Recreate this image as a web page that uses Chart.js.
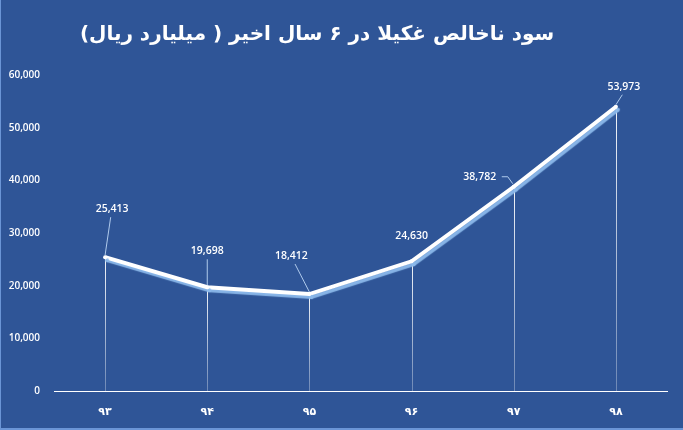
<!DOCTYPE html>
<html>
<head>
<meta charset="utf-8">
<script src="https://cdn.jsdelivr.net/npm/chart.js@4.4.0/dist/chart.umd.min.js"></script>
<style>
    html, body { margin: 0; padding: 0; background: #2f5597; overflow: hidden; }
    #wrap { width: 683px; height: 430px; position: relative; }
    #edge { position: absolute; left: 0; top: 0; width: 683px; height: 430px; box-sizing: border-box;
            border-left: 1px solid #6b95d6; border-bottom: 2px solid #6b95d6; pointer-events: none; }
</style>
</head>
<body>
<div id="wrap"><canvas id="gross_profit" width="683" height="430"></canvas><div id="edge"></div></div>
<script>
var years = ["۹۳", "۹۴", "۹۵", "۹۶", "۹۷", "۹۸"];
var grossProfit = [25413, 19698, 18412, 24630, 38782, 53973];
var yTicks = [0, 10000, 20000, 30000, 40000, 50000, 60000];
var chartTitle = "سود ناخالص غکیلا در ۶ سال اخیر ( میلیارد ریال)";

// label offsets from the point (px) and whether a leader line is drawn
var labelPlace = [
    { dx: 7, dy: -48, leader: true },
    { dx: 0, dy: -36, leader: true },
    { dx: -18, dy: -38, leader: true },
    { dx: 0, dy: -25, leader: false },
    { dx: -34, dy: -10, leader: true, elbow: true },
    { dx: 8, dy: -20, leader: true }
];

function fmt(v) {
    return v.toLocaleString("en-US");
}

// title, drawn a bit left of centre like the original
var titleText = {
    id: "titleText",
    afterDraw: function (chart) {
        var ctx = chart.ctx;
        ctx.save();
        ctx.font = "bold 20px 'DejaVu Sans'";
        ctx.fillStyle = "#ffffff";
        ctx.textAlign = "center";
        ctx.textBaseline = "middle";
        ctx.fillText(chartTitle, 317, 35);
        ctx.restore();
    }
};

// drop lines from each point down to the axis
var dropLines = {
    id: "dropLines",
    beforeDatasetsDraw: function (chart) {
        var ctx = chart.ctx;
        var meta = chart.getDatasetMeta(0);
        var bottom = chart.scales.y.getPixelForValue(0);
        ctx.save();
        meta.data.forEach(function (pt) {
            var g = ctx.createLinearGradient(0, pt.y, 0, bottom);
            g.addColorStop(0, "rgba(255,255,255,0.95)");
            g.addColorStop(1, "rgba(255,255,255,0.3)");
            ctx.strokeStyle = g;
            ctx.lineWidth = 1;
            ctx.beginPath();
            ctx.moveTo(Math.round(pt.x) + 0.5, pt.y);
            ctx.lineTo(Math.round(pt.x) + 0.5, bottom);
            ctx.stroke();
        });
        ctx.restore();
    }
};

// soft light-blue shadow under the line
var lineShadow = {
    id: "lineShadow",
    beforeDatasetDraw: function (chart) {
        var ctx = chart.ctx;
        ctx.save();
        ctx.shadowColor = "rgba(140, 185, 235, 0.95)";
        ctx.shadowOffsetX = 2;
        ctx.shadowOffsetY = 3;
        ctx.shadowBlur = 1;
    },
    afterDatasetDraw: function (chart) {
        chart.ctx.restore();
    }
};

// value labels with leader lines
var valueLabels = {
    id: "valueLabels",
    afterDatasetsDraw: function (chart) {
        var ctx = chart.ctx;
        var meta = chart.getDatasetMeta(0);
        ctx.save();
        ctx.font = "600 10.5px 'Open Sans'";
        ctx.textAlign = "center";
        ctx.textBaseline = "middle";
        meta.data.forEach(function (pt, i) {
            var p = labelPlace[i];
            var lx = pt.x + p.dx, ly = pt.y + p.dy;
            if (p.leader) {
                ctx.strokeStyle = "rgba(190, 215, 245, 0.9)";
                ctx.lineWidth = 1;
                ctx.beginPath();
                if (p.elbow) {
                    ctx.moveTo(lx + 22, ly);
                    ctx.lineTo(lx + 28, ly);
                    ctx.lineTo(pt.x - 1, pt.y - 3);
                } else {
                    var sx = lx + (pt.x - lx) * 0.2;
                    ctx.moveTo(sx, ly + 8);
                    ctx.lineTo(pt.x, pt.y - 2);
                }
                ctx.stroke();
            }
            ctx.fillStyle = "#ffffff";
            ctx.fillText(fmt(grossProfit[i]), lx, ly);
        });
        ctx.restore();
    }
};

var ctx = document.getElementById("gross_profit").getContext("2d");

var data = {
    labels: years,
    datasets: [
        {
            label: "سود ناخالص",
            data: grossProfit,
            borderColor: "#ffffff",
            borderWidth: 4,
            pointRadius: 2,
            pointBackgroundColor: "#ffffff",
            pointBorderWidth: 0,
            tension: 0,
            fill: false
        }
    ]
};

var options = {
    responsive: false,
    animation: false,
    layout: {
        padding: { left: 0, right: 16, top: 75, bottom: 0 }
    },
    scales: {
        x: {
            offset: true,
            grid: { display: true, color: "rgba(0,0,0,0)", drawTicks: false, offset: true },
            border: { display: true, color: "#ffffff", width: 1 },
            ticks: {
                color: "#ffffff",
                font: { family: "DejaVu Sans", size: 11, weight: "bold" },
                padding: 15
            },
            afterFit: function (scale) { scale.height = 39; }
        },
        y: {
            min: 0,
            max: 60000,
            grid: { display: false },
            border: { display: false },
            afterBuildTicks: function (scale) {
                scale.ticks = yTicks.map(function (v) { return { value: v }; });
            },
            ticks: {
                color: "#ffffff",
                font: { family: "Open Sans", size: 10, weight: "600" },
                padding: 6,
                callback: function (v) { return fmt(v); }
            },
            afterFit: function (scale) { scale.width = 54; }
        }
    },
    plugins: {
        legend: { display: false },
        tooltip: { enabled: false },
        title: { display: false }
    }
};

var lineChart = new Chart(ctx, {
    type: "line",
    data: data,
    options: options,
    plugins: [dropLines, lineShadow, valueLabels, titleText]
});
</script>
</body>
</html>
